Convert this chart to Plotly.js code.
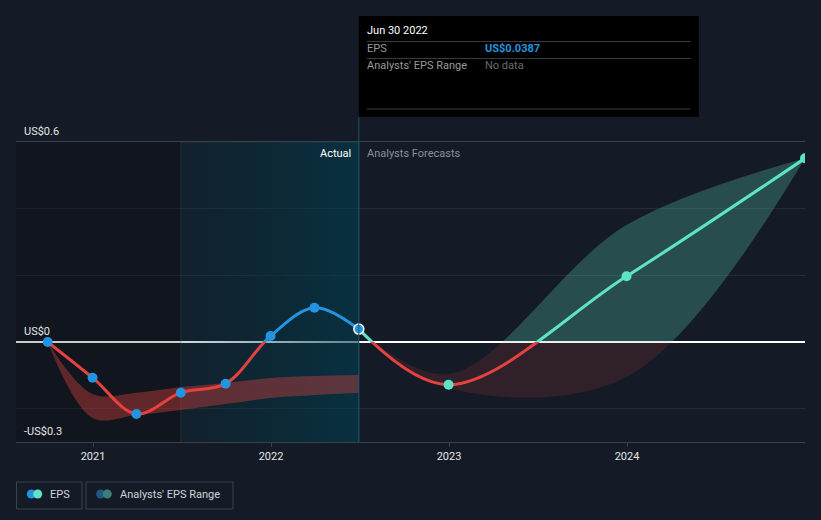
<!DOCTYPE html>
<html>
<head>
<meta charset="utf-8">
<script src="https://cdn.plot.ly/plotly-3.0.1.min.js"></script>
<style>html,body{margin:0;padding:0;background:#151b26;}#chart{width:821px;height:520px;}</style>
</head>
<body>
<div id="chart"></div>
<script>
// ---- data ----
const actualDates = ['2020-09-30','2020-12-31','2021-03-31','2021-06-30','2021-09-30','2021-12-31','2022-03-31','2022-06-30'];
const actualEps   = [0, -0.107, -0.216, -0.152, -0.125, 0.018, 0.103, 0.0387];
const actualRangeLow  = [0, -0.228, -0.219, -0.204, -0.186, -0.168, -0.159, -0.152];
const actualRangeHigh = [0, -0.156, -0.152, -0.135, -0.123, -0.108, -0.102, -0.099];

const forecastDates = ['2022-06-30','2022-12-31','2023-12-31','2024-12-31'];
const forecastEps   = [0.0387, -0.128, 0.197, 0.551];
const forecastRangeLow  = [0.0387, -0.138, -0.105, 0.551];
const forecastRangeHigh = [0.0387, -0.096, 0.351, 0.551];

const xRange = ['2020-07-27', '2024-12-31'];
const yRange = [-0.3, 0.6];
const xTickVals = ['2021-01-01','2022-01-01','2023-01-01','2024-01-01'];
const xTickText = ['2021','2022','2023','2024'];
const yLabelVals = [0.6, 0, -0.3];
const yLabelText = ['US$0.6','US$0','-US$0.3'];
const pastYearStart = '2021-06-30';
const lastActual = '2022-06-30';
const tooltipDate = 'Jun 30 2022';
const tooltipEps = 'US$0.0387';

// ---- styles ----
const RED = '#e5423f', BLUE = '#2394df', TEAL = '#5fe3c5';
const BG = '#151b26';
const FONT = 'Roboto, "Open Sans", sans-serif';
const LW = 3;

const traces = [];
// background regions (subplot xy)
traces.push({x:[xRange[0],xRange[0],pastYearStart,pastYearStart], y:[yRange[0],yRange[1],yRange[1],yRange[0]],
  xaxis:'x', yaxis:'y', mode:'lines', fill:'toself', fillcolor:'rgba(0,0,0,0.2)', line:{width:0}, hoverinfo:'skip'});
traces.push({x:[pastYearStart,pastYearStart,lastActual,lastActual], y:[yRange[0],yRange[1],yRange[1],yRange[0]],
  xaxis:'x', yaxis:'y', mode:'lines', fill:'toself', fillcolor:'rgba(0,56,72,0.4)',
  fillgradient:{type:'horizontal', colorscale:[[0,'rgba(0,56,72,0.18)'],[1,'rgba(0,62,80,0.62)']]},
  line:{width:1, color:'rgba(50,85,95,0.35)'}, hoverinfo:'skip'});

// upper (>=0) clipped subplot x2y2
const sp = {shape:'spline', smoothing:1};
traces.push({x:forecastDates, y:forecastRangeLow, xaxis:'x2', yaxis:'y2', mode:'lines', line:Object.assign({width:0},sp), hoverinfo:'skip'});
traces.push({x:forecastDates, y:forecastRangeHigh, xaxis:'x2', yaxis:'y2', mode:'lines', fill:'tonexty', fillcolor:'rgba(94,226,198,0.25)', line:Object.assign({width:0},sp), hoverinfo:'skip'});
traces.push({x:actualDates, y:actualEps, xaxis:'x2', yaxis:'y2', mode:'lines', line:Object.assign({width:LW, color:BLUE},sp), hoverinfo:'skip'});
traces.push({x:forecastDates, y:forecastEps, xaxis:'x2', yaxis:'y2', mode:'lines', line:Object.assign({width:LW, color:TEAL},sp), hoverinfo:'skip'});

// lower (<0) clipped subplot x3y3
traces.push({x:actualDates, y:actualRangeLow, xaxis:'x3', yaxis:'y3', mode:'lines', line:Object.assign({width:0},sp), hoverinfo:'skip'});
traces.push({x:actualDates, y:actualRangeHigh, xaxis:'x3', yaxis:'y3', mode:'lines', fill:'tonexty', fillcolor:'rgba(229,66,63,0.38)', line:Object.assign({width:0},sp), hoverinfo:'skip'});
traces.push({x:forecastDates, y:forecastRangeLow, xaxis:'x3', yaxis:'y3', mode:'lines', line:Object.assign({width:0},sp), hoverinfo:'skip'});
traces.push({x:forecastDates, y:forecastRangeHigh, xaxis:'x3', yaxis:'y3', mode:'lines', fill:'tonexty', fillcolor:'rgba(229,66,63,0.13)', line:Object.assign({width:0},sp), hoverinfo:'skip'});
traces.push({x:actualDates, y:actualEps, xaxis:'x3', yaxis:'y3', mode:'lines', line:Object.assign({width:LW, color:RED},sp), hoverinfo:'skip'});
traces.push({x:forecastDates, y:forecastEps, xaxis:'x3', yaxis:'y3', mode:'lines', line:Object.assign({width:LW, color:RED},sp), hoverinfo:'skip'});

// markers on top, subplot x4y4
traces.push({x:actualDates, y:actualEps, xaxis:'x4', yaxis:'y4', mode:'markers',
  marker:{size:10, color:BLUE, line:{width:actualDates.map(d => d===lastActual ? 1.5 : 0), color:'#ffffff'}}, hoverinfo:'skip'});
traces.push({x:forecastDates.slice(1), y:forecastEps.slice(1), xaxis:'x4', yaxis:'y4', mode:'markers',
  marker:{size:10, color:TEAL}, hoverinfo:'skip'});

// ---- layout pieces ----
const hidden = {visible:false, fixedrange:true};
const pxY = py => (442 - py) / 300; // plot-area helper for paper coords of overlay text

const annotations = [];
yLabelVals.forEach((v,i) => annotations.push({xref:'paper', x:0, xanchor:'left', xshift:6, yref:'y', y:v, yanchor:'bottom', yshift:2,
  text:yLabelText[i], showarrow:false, font:{size:11, color:'#e6e6e6'}}));
annotations.push({xref:'x', x:lastActual, xanchor:'right', xshift:-6, yref:'paper', y:1, yanchor:'top', yshift:-3,
  text:'Actual', showarrow:false, font:{size:11, color:'#ffffff'}});
annotations.push({xref:'x', x:lastActual, xanchor:'left', xshift:6, yref:'paper', y:1, yanchor:'top', yshift:-3,
  text:'Analysts Forecasts', showarrow:false, font:{size:11, color:'#8b9099'}});
// tooltip
annotations.push({xref:'x', x:lastActual, xanchor:'left', xshift:6, yref:'paper', y:pxY(31), yanchor:'middle',
  text:tooltipDate, showarrow:false, font:{size:11, color:'#ffffff'}});
annotations.push({xref:'x', x:lastActual, xanchor:'left', xshift:6, yref:'paper', y:pxY(49), yanchor:'middle',
  text:'EPS', showarrow:false, font:{size:11, color:'#9a9a9a'}});
annotations.push({xref:'x', x:lastActual, xanchor:'left', xshift:124, yref:'paper', y:pxY(49), yanchor:'middle',
  text:'<b>'+tooltipEps+'</b>', showarrow:false, font:{size:11, color:BLUE}});
annotations.push({xref:'x', x:lastActual, xanchor:'left', xshift:6, yref:'paper', y:pxY(66), yanchor:'middle',
  text:"Analysts' EPS Range", showarrow:false, font:{size:11, color:'#9a9a9a'}});
annotations.push({xref:'x', x:lastActual, xanchor:'left', xshift:124, yref:'paper', y:pxY(66), yanchor:'middle',
  text:'No data', showarrow:false, font:{size:11, color:'#6a6a6a'}});
// legend text
annotations.push({xref:'paper', x:0, xanchor:'left', xshift:32, yref:'paper', y:pxY(494), yanchor:'middle',
  text:'EPS', showarrow:false, font:{size:11, color:'#d2d4d8'}});
annotations.push({xref:'paper', x:0, xanchor:'left', xshift:102, yref:'paper', y:pxY(494), yanchor:'middle',
  text:"Analysts' EPS Range", showarrow:false, font:{size:11, color:'#d2d4d8'}});

const shapes = [];
// vertical divider at last actual
shapes.push({type:'line', xref:'x', x0:lastActual, x1:lastActual, yref:'paper', y0:0, y1:pxY(117), line:{color:'#1d5566', width:1}, layer:'above'});
// tooltip box
shapes.push({type:'rect', xref:'x', xsizemode:'pixel', xanchor:lastActual, x0:0, x1:340, yref:'paper', y0:pxY(117), y1:pxY(16),
  fillcolor:'#000000', line:{width:0}, layer:'above'});
[41.5, 58.5, 109].forEach(py => shapes.push({type:'line', xref:'x', xsizemode:'pixel', xanchor:lastActual, x0:8, x1:332,
  yref:'paper', y0:pxY(py), y1:pxY(py), line:{color:'#3a3a3a', width:1}, layer:'above'}));
// legend boxes & icons
const lgBox = (x0,x1) => ({type:'rect', xref:'paper', xsizemode:'pixel', xanchor:0, x0:x0, x1:x1, yref:'paper', ysizemode:'pixel', yanchor:0, y0:-40, y1:-67,
  fillcolor:'rgba(0,0,0,0)', line:{color:'#3d424b', width:1}, layer:'above'});
shapes.push(lgBox(0.5,66));
shapes.push(lgBox(70,217));
const dot = (cx,color) => ({type:'circle', xref:'paper', xsizemode:'pixel', xanchor:0, x0:cx-4.5, x1:cx+4.5, yref:'paper', ysizemode:'pixel', yanchor:0, y0:-56.5, y1:-47.5,
  fillcolor:color, line:{width:0}, layer:'above'});
shapes.push(dot(15.3, BLUE)); shapes.push(dot(21.7, TEAL));
shapes.push(dot(84.7, '#1d5a80')); shapes.push(dot(91.3, '#3f7c76'));

const layout = {
  width:821, height:520,
  margin:{l:16, r:16, t:142, b:78, pad:0},
  paper_bgcolor:BG, plot_bgcolor:'rgba(0,0,0,0)',
  font:{family:FONT, size:11, color:'#e6e6e6'},
  showlegend:false, hovermode:false,
  xaxis:{type:'date', range:xRange, domain:[0,1], anchor:'y', tickmode:'array', tickvals:xTickVals, ticktext:xTickText,
    ticks:'outside', ticklen:4, tickcolor:'#3b404a', tickwidth:1, showgrid:false, zeroline:false,
    showline:true, mirror:true, linecolor:'#3b404a', linewidth:1, tickfont:{size:11, color:'#e6e6e6'}, fixedrange:true},
  yaxis:{range:yRange, domain:[0,1], anchor:'x', tick0:0, dtick:0.2, showticklabels:false, ticks:'',
    showgrid:true, gridcolor:'#252a34', gridwidth:1, zeroline:true, zerolinecolor:'#ffffff', zerolinewidth:1.5, showline:false, fixedrange:true},
  xaxis2:Object.assign({type:'date', range:xRange, domain:[0,1], anchor:'y2', matches:'x'}, hidden),
  yaxis2:Object.assign({range:[0, yRange[1]], domain:[1/3,1], anchor:'x2'}, hidden),
  xaxis3:Object.assign({type:'date', range:xRange, domain:[0,1], anchor:'y3', matches:'x'}, hidden),
  yaxis3:Object.assign({range:[yRange[0], 0], domain:[0,1/3], anchor:'x3'}, hidden),
  xaxis4:Object.assign({type:'date', range:xRange, domain:[0,1], anchor:'y4', matches:'x'}, hidden),
  yaxis4:Object.assign({range:yRange, domain:[0,1], anchor:'x4'}, hidden),
  annotations:annotations,
  shapes:shapes
};

Plotly.newPlot('chart', traces, layout, {displayModeBar:false, staticPlot:true});
</script>
</body>
</html>
